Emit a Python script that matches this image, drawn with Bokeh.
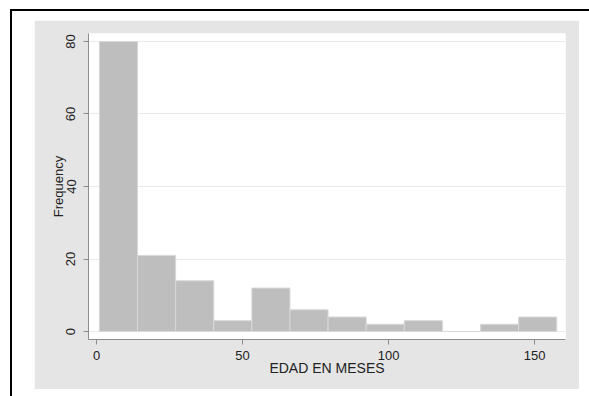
from bokeh.plotting import figure
from bokeh.models import Range1d, FixedTicker
from bokeh.embed import file_html
from bokeh.resources import INLINE

# Histogram of EDAD EN MESES (age in months)
bin_edges = [1, 14.05, 27.1, 40.15, 53.2, 66.25, 79.3, 92.35, 105.4, 118.45, 131.5, 144.55, 157.6]
frequency = [80, 21, 14, 3, 12, 6, 4, 2, 3, 0, 2, 4]
x_ticks = [0, 50, 100, 150]
y_ticks = [0, 20, 40, 60, 80]
x_title = "EDAD EN MESES"
y_title = "Frequency"

FONT = "Liberation Sans"
TXT = "#222222"
AX = "#8c8c8c"
PANEL = "#e5e5e5"

p = figure(width=545, height=369, output_backend="svg", toolbar_location=None,
           x_range=Range1d(-2.74, 160.6), y_range=Range1d(-2.2, 82.2),
           min_border_left=54, min_border_right=14, min_border_top=13, min_border_bottom=50,
           border_fill_color=PANEL, background_fill_color="white",
           outline_line_color=None)
p.margin = (20, 0, -12, 34)
# black frame lines at the top and left of the page, drawn as CSS shadows
p.styles = {"box-shadow": "8px 21px 0 30px white, 6px 19px 0 30px black",
            "vertical-align": "top"}

p.quad(left=bin_edges[:-1], right=bin_edges[1:], top=frequency, bottom=0,
       fill_color="#bebebe", line_color="#d8d8d8", line_width=1)

p.xgrid.visible = False
p.ygrid.ticker = FixedTicker(ticks=y_ticks)
p.ygrid.grid_line_color = "#eaeaea"
p.ygrid.grid_line_width = 1

p.xaxis.ticker = FixedTicker(ticks=x_ticks)
p.yaxis.ticker = FixedTicker(ticks=y_ticks)
p.xaxis.axis_label = x_title
p.yaxis.axis_label = y_title
p.yaxis.major_label_orientation = "vertical"

for ax in (p.xaxis, p.yaxis):
    ax.axis_line_color = AX
    ax.major_tick_line_color = AX
    ax.minor_tick_line_color = None
    ax.major_tick_out = 5
    ax.major_tick_in = 0
    ax.major_label_text_font = FONT
    ax.major_label_text_font_size = "13px"
    ax.major_label_text_color = TXT
    ax.axis_label_text_font = FONT
    ax.axis_label_text_font_style = "normal"
    ax.axis_label_text_color = TXT

p.xaxis.axis_label_text_font_size = "14px"
p.yaxis.axis_label_text_font_size = "13px"
p.xaxis.major_label_standoff = 6
p.xaxis.axis_label_standoff = -3
p.yaxis.major_label_standoff = 8
p.yaxis.axis_label_standoff = -2

open("out.html", "w").write(file_html(p, INLINE))
